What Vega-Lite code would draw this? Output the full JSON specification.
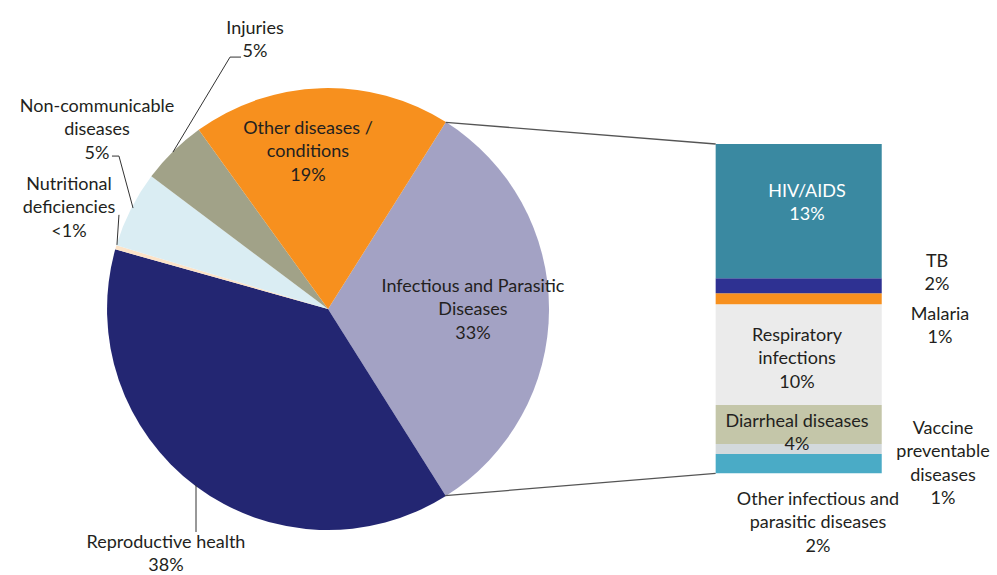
{
  "$schema": "https://vega.github.io/schema/vega-lite/v6.json",
  "width": 997,
  "height": 575,
  "padding": 0,
  "autosize": {"type": "none"},
  "background": "white",
  "config": {
    "view": {"stroke": null},
    "axis": {"disable": true},
    "text": {"font": "Lato", "fontSize": 18, "lineHeight": 23.3, "lineBreak": "\n", "color": "#231F20", "align": "center", "baseline": "middle"}
  },
  "datasets": {
    "pie": [
      {"cat": "Infectious and Parasitic Diseases", "ord": 1, "pct": 32.1, "label": "Infectious and Parasitic\nDiseases\n33%"},
      {"cat": "Reproductive health", "ord": 2, "pct": 38.3, "label": "Reproductive health\n38%"},
      {"cat": "Nutritional deficiencies", "ord": 3, "pct": 0.3, "label": "Nutritional\ndeficiencies\n<1%"},
      {"cat": "Non-communicable diseases", "ord": 4, "pct": 5.6, "label": "Non-communicable\ndiseases\n5%"},
      {"cat": "Injuries", "ord": 5, "pct": 4.8, "label": "Injuries\n5%"},
      {"cat": "Other diseases / conditions", "ord": 6, "pct": 18.9, "label": "Other diseases /\nconditions\n19%"}
    ],
    "bar": [
      {"sub": "Other infectious and parasitic diseases", "ord": 1, "pct": 1.94, "label": "Other infectious and\nparasitic diseases\n2%"},
      {"sub": "Vaccine preventable diseases", "ord": 2, "pct": 1.0, "label": "Vaccine\npreventable\ndiseases\n1%"},
      {"sub": "Diarrheal diseases", "ord": 3, "pct": 3.91, "label": "Diarrheal diseases\n4%"},
      {"sub": "Respiratory infections", "ord": 4, "pct": 10.09, "label": "Respiratory\ninfections\n10%"},
      {"sub": "Malaria", "ord": 5, "pct": 1.1, "label": "Malaria\n1%"},
      {"sub": "TB", "ord": 6, "pct": 1.5, "label": "TB\n2%"},
      {"sub": "HIV/AIDS", "ord": 7, "pct": 13.46, "label": "HIV/AIDS\n13%"}
    ]
  },
  "resolve": {"scale": {"color": "independent"}},
  "layer": [
    {
      "data": {"name": "pie"},
      "mark": {"type": "arc", "outerRadius": 221},
      "encoding": {
        "x": {"datum": 32.87, "type": "quantitative", "scale": {"domain": [0, 99.9], "nice": false, "zero": false}},
        "y": {"datum": 16.46, "type": "quantitative", "scale": {"domain": [-10.19, 47.43], "nice": false, "zero": false}},
        "theta": {"field": "pct", "type": "quantitative", "stack": true, "scale": {"range": [0.5625, 6.8457]}},
        "order": {"field": "ord", "type": "quantitative"},
        "color": {
          "field": "cat", "type": "nominal", "legend": null,
          "scale": {
            "domain": ["Infectious and Parasitic Diseases", "Reproductive health", "Nutritional deficiencies", "Non-communicable diseases", "Injuries", "Other diseases / conditions"],
            "range": ["#A3A2C4", "#232672", "#FCE3C8", "#DAEDF3", "#A1A288", "#F7901E"]
          }
        }
      }
    },
    {
      "data": {"name": "bar"},
      "transform": [{"stack": "pct", "groupby": [], "sort": [{"field": "ord", "order": "ascending"}], "as": ["y0", "y1"]}],
      "mark": {"type": "rect"},
      "encoding": {
        "x": {"datum": 71.71, "type": "quantitative"},
        "x2": {"datum": 88.35},
        "y": {"field": "y0", "type": "quantitative"},
        "y2": {"field": "y1"},
        "color": {
          "field": "sub", "type": "nominal", "legend": null,
          "scale": {
            "domain": ["Other infectious and parasitic diseases", "Vaccine preventable diseases", "Diarrheal diseases", "Respiratory infections", "Malaria", "TB", "HIV/AIDS"],
            "range": ["#4AABC6", "#D3D9DC", "#C4C6A9", "#EBEBEB", "#F7901E", "#2E3192", "#3A89A1"]
          }
        }
      }
    },
    {
      "data": {"name": "pie"},
      "transform": [{"filter": "datum.cat === 'Infectious and Parasitic Diseases'"}],
      "layer": [
        {"mark": {"type": "rule", "color": "#555555", "strokeWidth": 1.3}, "encoding": {"x": {"datum": 44.66, "type": "quantitative"}, "y": {"datum": 35.17, "type": "quantitative"}, "x2": {"datum": 71.71}, "y2": {"datum": 33.0}}},
        {"mark": {"type": "rule", "color": "#555555", "strokeWidth": 1.3}, "encoding": {"x": {"datum": 44.59, "type": "quantitative"}, "y": {"datum": -2.24, "type": "quantitative"}, "x2": {"datum": 71.71}, "y2": {"datum": 0.0}}},
        {"mark": {"type": "text"}, "encoding": {"x": {"datum": 47.39, "type": "quantitative"}, "y": {"datum": 18.67, "type": "quantitative"}, "text": {"field": "label", "type": "nominal"}}}
      ]
    },
    {
      "data": {"name": "pie"},
      "transform": [{"filter": "datum.cat === 'Other diseases / conditions'"}],
      "mark": {"type": "text"},
      "encoding": {"x": {"datum": 30.86, "type": "quantitative"}, "y": {"datum": 34.50, "type": "quantitative"}, "text": {"field": "label", "type": "nominal"}}
    },
    {
      "data": {"name": "pie"},
      "transform": [{"filter": "datum.cat === 'Injuries'"}],
      "layer": [
        {"mark": {"type": "text"}, "encoding": {"x": {"datum": 25.55, "type": "quantitative"}, "y": {"datum": 44.52, "type": "quantitative"}, "text": {"field": "label", "type": "nominal"}}},
        {"mark": {"type": "rule", "color": "#333333", "strokeWidth": 1}, "encoding": {"x": {"datum": 17.33, "type": "quantitative"}, "y": {"datum": 32.19, "type": "quantitative"}, "x2": {"datum": 23.05}, "y2": {"datum": 41.71}}},
        {"mark": {"type": "rule", "color": "#333333", "strokeWidth": 1}, "encoding": {"x": {"datum": 23.05, "type": "quantitative"}, "y": {"datum": 41.71, "type": "quantitative"}, "x2": {"datum": 24.15}, "y2": {"datum": 41.71}}}
      ]
    },
    {
      "data": {"name": "pie"},
      "transform": [{"filter": "datum.cat === 'Non-communicable diseases'"}],
      "layer": [
        {"mark": {"type": "text"}, "encoding": {"x": {"datum": 9.72, "type": "quantitative"}, "y": {"datum": 36.70, "type": "quantitative"}, "text": {"field": "label", "type": "nominal"}}},
        {"mark": {"type": "rule", "color": "#333333", "strokeWidth": 1}, "encoding": {"x": {"datum": 11.22, "type": "quantitative"}, "y": {"datum": 31.79, "type": "quantitative"}, "x2": {"datum": 11.92}, "y2": {"datum": 31.79}}},
        {"mark": {"type": "rule", "color": "#333333", "strokeWidth": 1}, "encoding": {"x": {"datum": 11.92, "type": "quantitative"}, "y": {"datum": 31.79, "type": "quantitative"}, "x2": {"datum": 13.33}, "y2": {"datum": 26.58}}}
      ]
    },
    {
      "data": {"name": "pie"},
      "transform": [{"filter": "datum.cat === 'Nutritional deficiencies'"}],
      "layer": [
        {"mark": {"type": "text"}, "encoding": {"x": {"datum": 6.91, "type": "quantitative"}, "y": {"datum": 28.89, "type": "quantitative"}, "text": {"field": "label", "type": "nominal"}}},
        {"mark": {"type": "rule", "color": "#333333", "strokeWidth": 1}, "encoding": {"x": {"datum": 11.92, "type": "quantitative"}, "y": {"datum": 25.90, "type": "quantitative"}, "x2": {"datum": 11.72}, "y2": {"datum": 22.89}}}
      ]
    },
    {
      "data": {"name": "pie"},
      "transform": [{"filter": "datum.cat === 'Reproductive health'"}],
      "layer": [
        {"mark": {"type": "text"}, "encoding": {"x": {"datum": 16.63, "type": "quantitative"}, "y": {"datum": -6.98, "type": "quantitative"}, "text": {"field": "label", "type": "nominal"}}},
        {"mark": {"type": "rule", "color": "#333333", "strokeWidth": 1}, "encoding": {"x": {"datum": 19.64, "type": "quantitative"}, "y": {"datum": -1.17, "type": "quantitative"}, "x2": {"datum": 19.64}, "y2": {"datum": -5.88}}}
      ]
    },
    {
      "data": {"name": "bar"},
      "transform": [{"filter": "datum.sub === 'HIV/AIDS'"}],
      "mark": {"type": "text", "color": "white"},
      "encoding": {"x": {"datum": 80.86, "type": "quantitative"}, "y": {"datum": 28.19, "type": "quantitative"}, "text": {"field": "label", "type": "nominal"}}
    },
    {
      "data": {"name": "bar"},
      "transform": [{"filter": "datum.sub === 'TB'"}],
      "mark": {"type": "text"},
      "encoding": {"x": {"datum": 93.89, "type": "quantitative"}, "y": {"datum": 21.17, "type": "quantitative"}, "text": {"field": "label", "type": "nominal"}}
    },
    {
      "data": {"name": "bar"},
      "transform": [{"filter": "datum.sub === 'Malaria'"}],
      "mark": {"type": "text"},
      "encoding": {"x": {"datum": 94.19, "type": "quantitative"}, "y": {"datum": 15.86, "type": "quantitative"}, "text": {"field": "label", "type": "nominal"}}
    },
    {
      "data": {"name": "bar"},
      "transform": [{"filter": "datum.sub === 'Respiratory infections'"}],
      "mark": {"type": "text"},
      "encoding": {"x": {"datum": 79.86, "type": "quantitative"}, "y": {"datum": 13.76, "type": "quantitative"}, "text": {"field": "label", "type": "nominal"}}
    },
    {
      "data": {"name": "bar"},
      "transform": [{"filter": "datum.sub === 'Diarrheal diseases'"}],
      "mark": {"type": "text"},
      "encoding": {"x": {"datum": 79.86, "type": "quantitative"}, "y": {"datum": 5.14, "type": "quantitative"}, "text": {"field": "label", "type": "nominal"}}
    },
    {
      "data": {"name": "bar"},
      "transform": [{"filter": "datum.sub === 'Vaccine preventable diseases'"}],
      "mark": {"type": "text"},
      "encoding": {"x": {"datum": 94.49, "type": "quantitative"}, "y": {"datum": 4.44, "type": "quantitative"}, "text": {"field": "label", "type": "nominal"}}
    },
    {
      "data": {"name": "bar"},
      "transform": [{"filter": "datum.sub === 'Other infectious and parasitic diseases'"}],
      "mark": {"type": "text"},
      "encoding": {"x": {"datum": 81.96, "type": "quantitative"}, "y": {"datum": -2.67, "type": "quantitative"}, "text": {"field": "label", "type": "nominal"}}
    }
  ]
}
